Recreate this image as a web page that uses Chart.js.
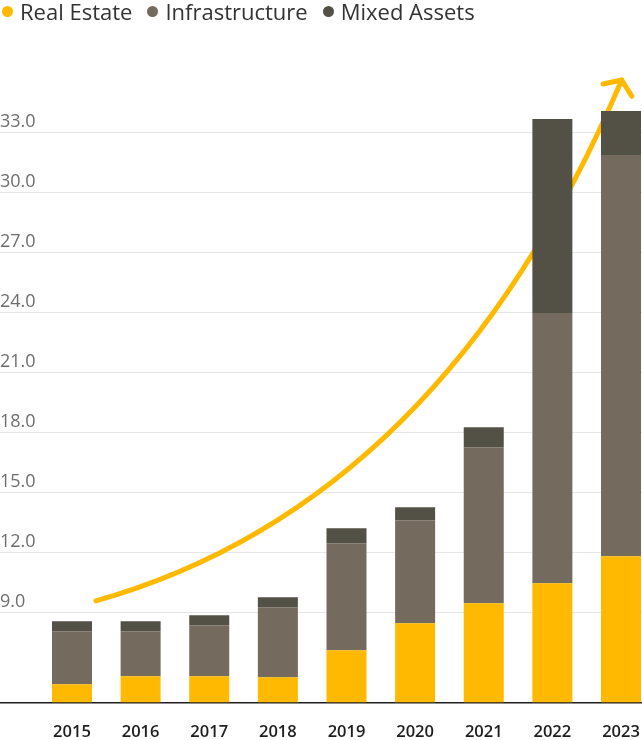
<!DOCTYPE html>
<html>
<head>
<meta charset="utf-8">
<script src="https://cdn.jsdelivr.net/npm/chart.js@4.4.1/dist/chart.umd.min.js"></script>
<style>
  body { margin: 0; background: #fff; }
  .wrap { position: relative; width: 642px; height: 740px; }
  #legend {
    position: absolute; top: 0; left: 2px; display: flex; gap: 15px;
    font: 22px "Open Sans", sans-serif; line-height: 22px; color: #333;
  }
  #legend .item { display: flex; align-items: center; }
  #legend i { display: inline-block; width: 11px; height: 11px; border-radius: 50%; margin-right: 7px; }
</style>
</head>
<body>
<div class="wrap">
  <div id="legend"></div>
  <canvas id="chart"></canvas>
</div>
<script>
// values
const years = [2015, 2016, 2017, 2018, 2019, 2020, 2021, 2022, 2023];
const realEstate = [5.4, 5.8, 5.8, 5.75, 7.1, 8.45, 9.45, 10.45, 11.8];
const infrastructure = [2.65, 2.25, 2.55, 3.5, 5.35, 5.15, 7.8, 13.5, 20.05];
const mixedAssets = [0.5, 0.5, 0.5, 0.5, 0.75, 0.65, 1.0, 9.7, 2.2];
const yTicks = [9, 12, 15, 18, 21, 24, 27, 30, 33];

const seriesNames = ["Real Estate", "Infrastructure", "Mixed Assets"];
const seriesColors = ["#FFB900", "#756A5E", "#535045"];

// trend arrow, in axis units (year, value)
const arrowX = [2015.35, 2019.28, 2021.59, 2023.01];
const arrowY = [9.57, 13.37, 24.12, 35.6];

const toPoints = (vals) => vals.map((v, i) => ({ x: years[i], y: v }));

// html legend
const legendEl = document.getElementById("legend");
seriesNames.forEach((name, i) => {
  const item = document.createElement("span");
  item.className = "item";
  item.innerHTML = `<i style="background:${seriesColors[i]}"></i>${name}`;
  legendEl.appendChild(item);
});

const arrowPlugin = {
  id: "trendArrow",
  beforeDatasetsDraw(chart) {
    const { ctx, scales } = chart;
    const p = arrowX.map((v, i) => [scales.x.getPixelForValue(v), scales.y.getPixelForValue(arrowY[i])]);
    ctx.save();
    ctx.strokeStyle = seriesColors[0];
    ctx.lineWidth = 5;
    ctx.lineCap = "round";
    ctx.lineJoin = "round";
    ctx.beginPath();
    ctx.moveTo(p[0][0], p[0][1]);
    ctx.bezierCurveTo(p[1][0], p[1][1], p[2][0], p[2][1], p[3][0], p[3][1]);
    ctx.stroke();

    // arrow head
    const ang = Math.atan2(p[3][1] - p[2][1], p[3][0] - p[2][0]);
    const len = 19;
    const spread = (55 * Math.PI) / 180;
    ctx.beginPath();
    ctx.moveTo(p[3][0] - len * Math.cos(ang - spread), p[3][1] - len * Math.sin(ang - spread));
    ctx.lineTo(p[3][0], p[3][1]);
    ctx.lineTo(p[3][0] - len * Math.cos(ang + spread), p[3][1] - len * Math.sin(ang + spread));
    ctx.stroke();
    ctx.restore();
  },
};

const ctx = document.getElementById("chart").getContext("2d");
new Chart(ctx, {
  type: "bar",
  data: {
    datasets: [
      { label: seriesNames[0], data: toPoints(realEstate), backgroundColor: seriesColors[0] },
      { label: seriesNames[1], data: toPoints(infrastructure), backgroundColor: seriesColors[1] },
      { label: seriesNames[2], data: toPoints(mixedAssets), backgroundColor: seriesColors[2] },
    ],
  },
  options: {
    responsive: true,
    maintainAspectRatio: false,
    animation: false,
    layout: { padding: { top: 50, bottom: 0, left: 0, right: 0 } },
    datasets: { bar: { barPercentage: 0.583, categoryPercentage: 1 } },
    plugins: {
      legend: { display: false },
      tooltip: { enabled: false },
    },
    scales: {
      x: {
        type: "linear",
        offset: false,
        stacked: true,
        min: 2013.951,
        max: 2023.306,
        afterBuildTicks: (scale) => {
          scale.ticks = years.map((v) => ({ value: v }));
        },
        afterFit: (scale) => {
          // keep the plot full width and the labels close to the baseline
          scale.paddingLeft = 0;
          scale.paddingRight = 0;
          scale.height = 37.7;
        },
        grid: { display: false, drawTicks: false },
        border: { color: "#1e1e1e", width: 1.5 },
        ticks: {
          callback: (v) => String(v),
          color: "#1e1e1e",
          padding: 20,
          maxRotation: 0,
          autoSkip: false,
          font: { family: "Open Sans", size: 16.5, weight: 600 },
        },
      },
      y: {
        stacked: true,
        min: 4.5,
        max: 37.1,
        afterBuildTicks: (scale) => {
          scale.ticks = yTicks.map((v) => ({ value: v }));
        },
        grid: { color: "#e6e6e6", drawTicks: false },
        border: { display: false },
        ticks: {
          mirror: true,
          padding: 0,
          labelOffset: -10,
          color: "#6e6e6e",
          callback: (v) => v.toFixed(1),
          font: { family: "Open Sans", size: 18 },
        },
      },
    },
  },
  plugins: [arrowPlugin],
});
</script>
</body>
</html>
